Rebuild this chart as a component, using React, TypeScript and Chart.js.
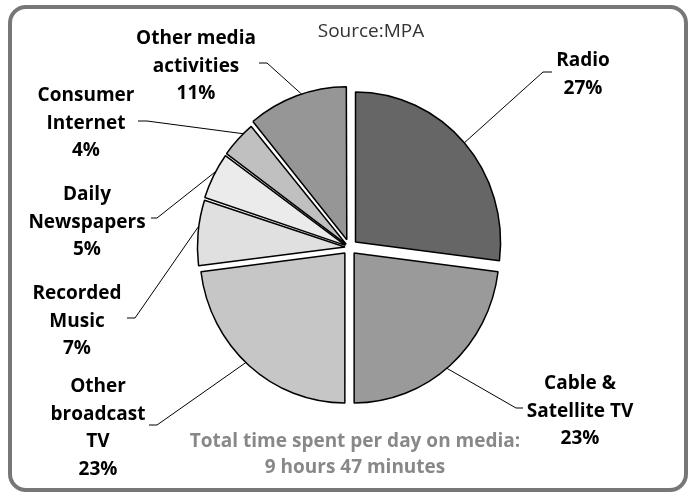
import React, { useEffect, useRef } from "react";
import { Chart, registerables } from "chart.js";

Chart.register(...registerables);

// ---- data ----
const CATEGORIES = [
  "Radio",
  "Cable & Satellite TV",
  "Other broadcast TV",
  "Recorded Music",
  "Daily Newspapers",
  "Consumer Internet",
  "Other media activities",
];
const SHARES = [27, 23, 23, 7, 5, 4, 11];
const LABEL_LINES = [
  ["Radio"],
  ["Cable &", "Satellite TV"],
  ["Other", "broadcast", "TV"],
  ["Recorded", "Music"],
  ["Daily", "Newspapers"],
  ["Consumer", "Internet"],
  ["Other media", "activities"],
];
const SOURCE_TEXT = "Source:MPA";
const FOOTNOTE = ["Total time spent per day on media:", "9 hours 47 minutes"];

// ---- style / layout ----
const COLORS = ["#666666", "#9a9a9a", "#c6c6c6", "#e0e0e0", "#ebebeb", "#c0c0c0", "#969696"];
const EXPLODE = [8, 7, 7, 4.5, 4.5, 4.5, 8]; // visual translation in px
const OFFSET_DIVISOR = 4; // chart.js arc draws offset/4
const PIE_RX = 145;
const Y_STRETCH = 150 / 145;
const LABEL_LAYOUT = [
  { cx: 583, y: 59, elbow: [543, 72], tick: [552, 72], at: 0.5 },
  { cx: 580, y: 382, elbow: [516, 408], tick: [523, 408], at: 0.52 },
  { cx: 98, y: 385, elbow: [157, 425], tick: [149, 425], at: 0.52 },
  { cx: 77, y: 292, elbow: [135, 318], tick: [127, 318], at: 0.6 },
  { cx: 87, y: 193, elbow: [157, 218], tick: [151, 218], at: 0.6 },
  { cx: 86, y: 94, elbow: [147, 121], tick: [138, 121], at: 0.7 },
  { cx: 196, y: 37, elbow: [267, 63], tick: [259, 63], at: 0.55 },
];
const LINE_H = 27.7;
const FONT_FAMILY = "'Open Sans', 'DejaVu Sans', sans-serif";
const FONT_SIZE = 19;

const W = 694;
const H = 493;

const ellipsePlugin = {
  id: "ellipse",
  beforeDatasetsDraw(chart: any) {
    const ctx = chart.ctx;
    const arc = chart.getDatasetMeta(0).data[0];
    ctx.save();
    ctx.translate(arc.x, arc.y);
    ctx.scale(1, Y_STRETCH);
    ctx.translate(-arc.x, -arc.y);
  },
  afterDatasetsDraw(chart: any) {
    chart.ctx.restore();
  },
};

const overlayPlugin = {
  id: "overlay",
  afterDraw(chart: any) {
    const ctx: CanvasRenderingContext2D = chart.ctx;
    ctx.save();

    // frame
    ctx.strokeStyle = "#777777";
    ctx.lineWidth = 4;
    ctx.beginPath();
    (ctx as any).roundRect(10, 7, 676, 483, 16);
    ctx.stroke();

    // source
    ctx.fillStyle = "#333333";
    ctx.font = `${FONT_SIZE}px ${FONT_FAMILY}`;
    ctx.textAlign = "center";
    ctx.textBaseline = "alphabetic";
    ctx.fillText(SOURCE_TEXT, 371, 30 + FONT_SIZE * 0.36);

    // labels + leaders
    const meta = chart.getDatasetMeta(0);
    meta.data.forEach((arc: any, i: number) => {
      const lay = LABEL_LAYOUT[i];
      const p = arc.getProps(["x", "y", "startAngle", "endAngle", "outerRadius"], true);
      const t = (arc.options.offset || 0) / OFFSET_DIVISOR;
      const mid = (p.startAngle + p.endAngle) / 2;
      const circ = p.endAngle - p.startAngle;
      const fix = 1 - Math.sin(Math.min(Math.PI, circ));
      const R = p.outerRadius + t * fix;
      const a = p.startAngle + lay.at * circ;
      const ax = p.x + Math.cos(mid) * t + Math.cos(a) * R;
      const ay = p.y + (Math.sin(mid) * t + Math.sin(a) * R) * Y_STRETCH;

      ctx.strokeStyle = "#000000";
      ctx.lineWidth = 1;
      ctx.beginPath();
      ctx.moveTo(ax, ay);
      ctx.lineTo(lay.elbow[0], lay.elbow[1]);
      ctx.lineTo(lay.tick[0], lay.tick[1]);
      ctx.stroke();

      const lines = [...LABEL_LINES[i], `${SHARES[i]}%`];
      ctx.fillStyle = "#000000";
      ctx.font = `bold ${FONT_SIZE}px ${FONT_FAMILY}`;
      lines.forEach((s, k) => {
        ctx.fillText(s, lay.cx, lay.y + k * LINE_H + FONT_SIZE * 0.36);
      });
    });

    // footnote
    ctx.fillStyle = "#888888";
    ctx.font = `bold ${FONT_SIZE}px ${FONT_FAMILY}`;
    FOOTNOTE.forEach((s, k) => {
      ctx.fillText(s, 355, 440 + k * 26.5 + FONT_SIZE * 0.36);
    });

    ctx.restore();
  },
};

export default function App() {
  const ref = useRef<HTMLCanvasElement | null>(null);
  useEffect(() => {
    if (!ref.current) return;
    const chart = new Chart(ref.current, {
      type: "pie",
      data: {
        labels: CATEGORIES,
        datasets: [
          {
            data: SHARES,
            backgroundColor: COLORS,
            borderColor: "#000000",
            borderWidth: 1.5,
            offset: EXPLODE.map((o) => o * OFFSET_DIVISOR),
          } as any,
        ],
      },
      options: {
        animation: false,
        responsive: false,
        devicePixelRatio: 1,
        radius: PIE_RX,
        layout: { padding: { left: 55, right: 50, top: 50, bottom: 48 } },
        plugins: {
          legend: { display: false },
          tooltip: { enabled: false },
          title: { display: false },
        },
        events: [],
      } as any,
      plugins: [ellipsePlugin, overlayPlugin],
    });
    return () => chart.destroy();
  }, []);
  return (
    <div style={{ position: "absolute", left: 0, top: 0, width: W, height: H, background: "#ffffff" }}>
      <canvas ref={ref} width={W} height={H} />
    </div>
  );
}
